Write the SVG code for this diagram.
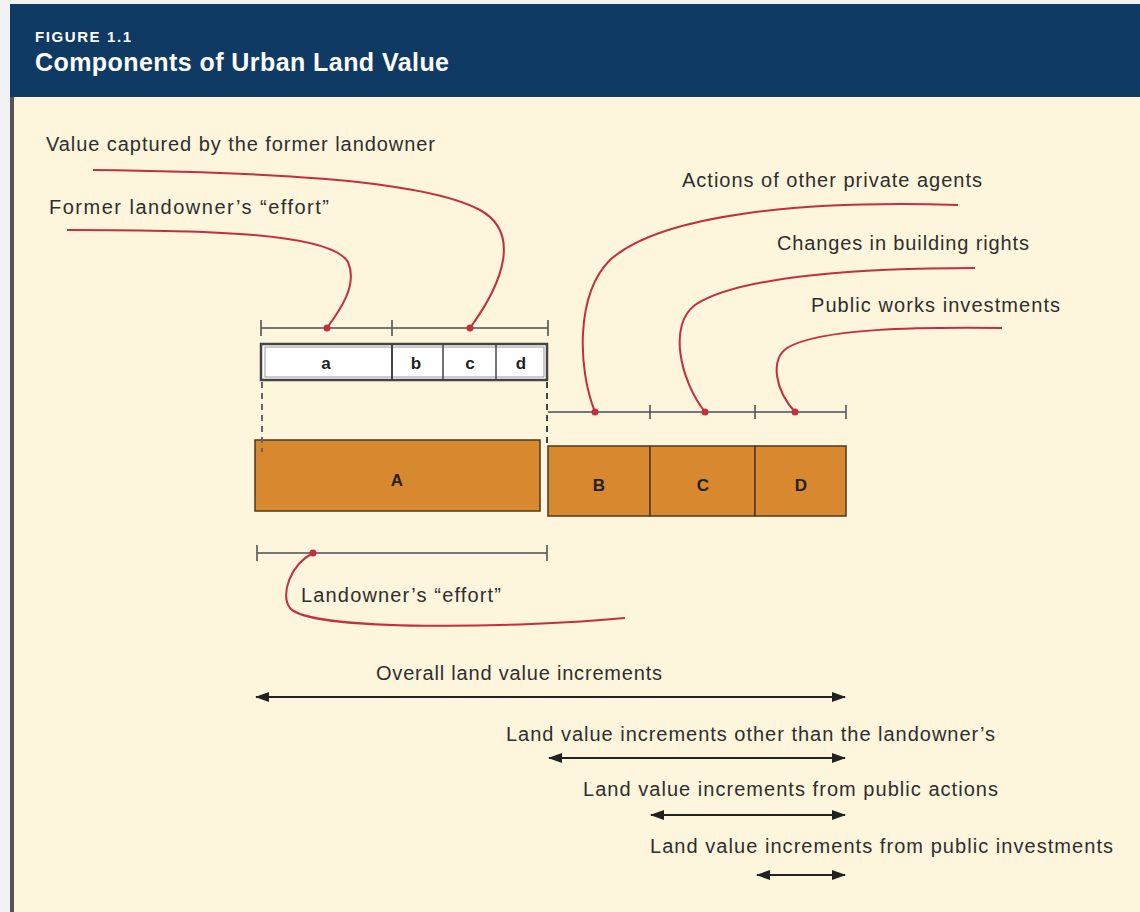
<svg xmlns="http://www.w3.org/2000/svg" width="1140" height="912" viewBox="0 0 1140 912">
<defs>
<style>
.lbl{font-family:"Liberation Sans",Arial,sans-serif;font-size:20px;fill:#2e2e2e}
.box{font-family:"Liberation Sans",Arial,sans-serif;font-size:17px;font-weight:bold;fill:#222;text-anchor:middle}
.red{fill:none;stroke:#c2303f;stroke-width:2}
.dot{fill:#c2303f}
.tick{stroke:#555;stroke-width:1.6;fill:none}
.bar{stroke:#777;stroke-width:2;fill:none}
.arr{stroke:#222;stroke-width:2;fill:none;marker-start:url(#ah);marker-end:url(#ah)}
.org{fill:#d8882e;stroke:#4a3a20;stroke-width:1.5}
</style>
<marker id="ah" viewBox="0 0 14 10" refX="13" refY="5" markerWidth="14" markerHeight="10" markerUnits="userSpaceOnUse" orient="auto-start-reverse">
<path d="M0,0 L14,5 L0,10 z" fill="#222"/>
</marker>
</defs>
<rect x="0" y="0" width="1140" height="912" fill="#f2f2f2"/>
<rect x="11" y="4" width="1129" height="908" fill="#fdf5dc"/>
<rect x="10" y="4" width="4" height="908" fill="#555"/>
<rect x="10" y="4" width="1130" height="93" fill="#0f3a63"/>
<g id="title">
<text x="35" y="42" font-family="Liberation Sans,Arial,sans-serif" font-size="15" font-weight="bold" fill="#fff" textLength="96">FIGURE 1.1</text>
<text x="35" y="71" font-family="Liberation Sans,Arial,sans-serif" font-size="25" font-weight="bold" fill="#fff" textLength="414">Components of Urban Land Value</text>
</g>
<g id="strip">
<rect x="261" y="344" width="286" height="36" fill="#fff" stroke="#444" stroke-width="2.5"/>
<rect x="265" y="347" width="279" height="30" fill="none" stroke="#999" stroke-width="1"/>
<line x1="392" y1="344" x2="392" y2="380" stroke="#444" stroke-width="2"/>
<line x1="443" y1="344" x2="443" y2="380" stroke="#444" stroke-width="1.5"/>
<line x1="496" y1="344" x2="496" y2="380" stroke="#444" stroke-width="1.5"/>
<text class="box" x="326" y="369">a</text>
<text class="box" x="416" y="369">b</text>
<text class="box" x="470" y="369">c</text>
<text class="box" x="521" y="369">d</text>
</g>
<g id="nodeA">
<rect class="org" x="255" y="440" width="285" height="71"/>
<text class="box" x="397" y="486">A</text>
</g>
<g id="nodeB">
<rect class="org" x="548" y="446" width="102" height="70"/>
<text class="box" x="599" y="491">B</text>
</g>
<g id="nodeC">
<rect class="org" x="650" y="446" width="105" height="70"/>
<text class="box" x="703" y="491">C</text>
</g>
<g id="nodeD">
<rect class="org" x="755" y="446" width="91" height="70"/>
<text class="box" x="801" y="491">D</text>
</g>
<g id="labels">
<text class="lbl" x="46" y="151" textLength="389">Value captured by the former landowner</text>
<text class="lbl" x="49" y="214" textLength="280">Former landowner’s “effort”</text>
<text class="lbl" x="682" y="187" textLength="300">Actions of other private agents</text>
<text class="lbl" x="777" y="250" textLength="252">Changes in building rights</text>
<text class="lbl" x="811" y="312" textLength="249">Public works investments</text>
<text class="lbl" x="301" y="602" textLength="200">Landowner’s “effort”</text>
<text class="lbl" x="376" y="680" textLength="286">Overall land value increments</text>
<text class="lbl" x="506" y="741" textLength="489">Land value increments other than the landowner’s</text>
<text class="lbl" x="583" y="796" textLength="415">Land value increments from public actions</text>
<text class="lbl" x="650" y="853" textLength="463">Land value increments from public investments</text>
</g>
<g id="connectors">
<line class="bar" x1="261" y1="328" x2="548" y2="328"/>
<line class="tick" x1="261" y1="320" x2="261" y2="336"/>
<line class="tick" x1="392" y1="320" x2="392" y2="336"/>
<line class="tick" x1="548" y1="320" x2="548" y2="336"/>
<line class="bar" x1="548" y1="412" x2="846" y2="412"/>
<line class="tick" x1="650" y1="405" x2="650" y2="419"/>
<line class="tick" x1="755" y1="405" x2="755" y2="419"/>
<line class="tick" x1="846" y1="405" x2="846" y2="419"/>
<line class="bar" x1="257" y1="553" x2="547" y2="553"/>
<line class="tick" x1="257" y1="545" x2="257" y2="561"/>
<line class="tick" x1="547" y1="545" x2="547" y2="561"/>
<line x1="262" y1="382" x2="262" y2="452" stroke="#666" stroke-width="2" stroke-dasharray="6,5"/>
<line x1="547" y1="382" x2="547" y2="446" stroke="#444" stroke-width="2" stroke-dasharray="6,5"/>
<path class="red" d="M93,170 C250,172 420,178 480,210 C520,232 505,280 470,328"/>
<path class="red" d="M67,230 C200,230 330,232 348,262 C358,285 340,310 327,328"/>
<path class="red" d="M958,205 C800,200 660,215 610,260 C575,295 578,370 595,412"/>
<path class="red" d="M975,268 C870,268 740,275 695,305 C668,325 680,380 705,412"/>
<path class="red" d="M1002,328 C920,327 820,328 787,348 C770,360 775,390 795,412"/>
<path class="red" d="M313,553 C290,565 280,595 290,608 C310,632 520,628 625,618"/>
<circle class="dot" cx="327" cy="328" r="3.5"/>
<circle class="dot" cx="470" cy="328" r="3.5"/>
<circle class="dot" cx="595" cy="412" r="3.5"/>
<circle class="dot" cx="705" cy="412" r="3.5"/>
<circle class="dot" cx="795" cy="412" r="3.5"/>
<circle class="dot" cx="313" cy="553" r="3.5"/>
<line class="arr" x1="256" y1="697" x2="845" y2="697"/>
<line class="arr" x1="549" y1="758" x2="845" y2="758"/>
<line class="arr" x1="651" y1="815" x2="845" y2="815"/>
<line class="arr" x1="757" y1="875" x2="845" y2="875"/>
</g>
</svg>
